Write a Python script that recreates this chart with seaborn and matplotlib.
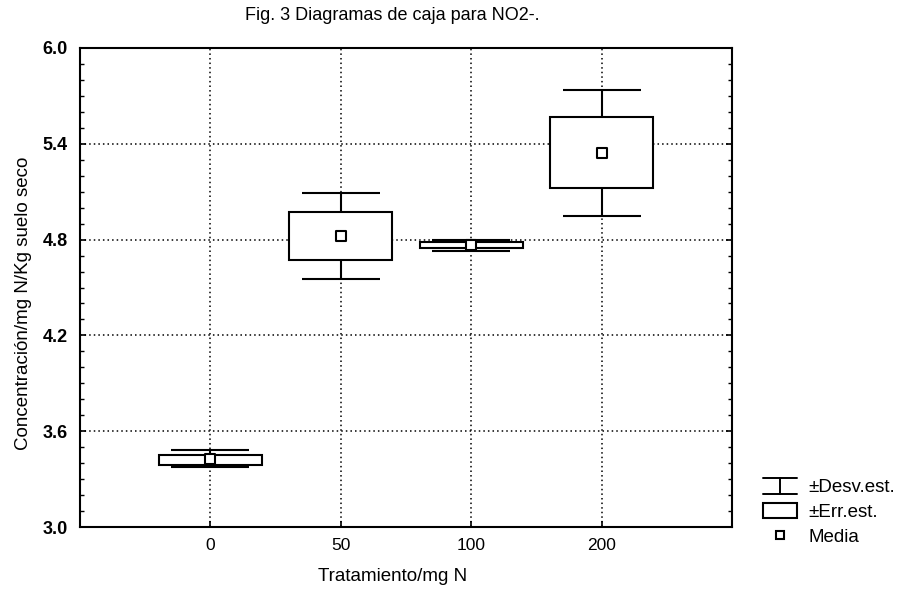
import matplotlib
matplotlib.use("Agg")
import matplotlib.pyplot as plt
import seaborn as sns
import pandas as pd
import numpy as np
from matplotlib.patches import Rectangle
from matplotlib.lines import Line2D
from matplotlib.legend_handler import HandlerBase
from matplotlib.ticker import MultipleLocator

# ---- data ----
categories = ["0", "50", "100", "200"]
means = [3.425, 4.825, 4.765, 5.345]
se_low = [3.39, 4.67, 4.745, 5.125]
se_high = [3.45, 4.975, 4.785, 5.57]
sd_low = [3.375, 4.556, 4.73, 4.95]
sd_high = [3.48, 5.09, 4.80, 5.7375]
y_ticks = [3.0, 3.6, 4.2, 4.8, 5.4, 6.0]
legend_labels = ["±Desv.est.", "±Err.est.", "Media"]

sns.set_theme(style="white")
plt.rcParams['font.family'] = ['Liberation Sans', 'DejaVu Sans']
for k in ["text.color", "axes.labelcolor", "xtick.color", "ytick.color", "axes.edgecolor"]:
    plt.rcParams[k] = "black"

df = pd.DataFrame({"Tratamiento": categories, "mean": means,
                   "se_low": se_low, "se_high": se_high,
                   "sd_low": sd_low, "sd_high": sd_high})
pos = np.arange(len(categories))

fig = plt.figure(figsize=(9, 5.92), dpi=100)
L, R, T, B = 80, 732, 48, 527
ax = fig.add_axes([L/900, 1-B/592, (R-L)/900, (B-T)/592])

# SD whiskers (I-beam)
ax.errorbar(pos, df["mean"], yerr=[df["mean"]-df["sd_low"], df["sd_high"]-df["mean"]],
            fmt="none", ecolor="black", elinewidth=1.5, capsize=28, capthick=1.5, zorder=2)
# SE boxes
box_w = 0.79
for p, lo, hi in zip(pos, df["se_low"], df["se_high"]):
    ax.add_patch(Rectangle((p - box_w/2, lo), box_w, hi - lo, facecolor="white",
                           edgecolor="black", linewidth=1.5, zorder=3))
# means
sns.scatterplot(x=pos, y=df["mean"], marker="s", s=45, color="white",
                edgecolor="black", linewidth=1.5, zorder=4, ax=ax, legend=False)

ax.set_xlim(-1.0, 4.0)
ax.set_ylim(3.0, 6.0)
ax.set_xticks(pos)
ax.set_xticklabels(categories, fontsize=12.5)
ax.set_yticks(y_ticks)
ax.set_yticklabels([f"{v:.1f}" for v in y_ticks], fontsize=13, fontweight="bold")
ax.yaxis.set_minor_locator(MultipleLocator(0.1))
ax.tick_params(axis="y", which="major", direction="in", length=4, width=1.2, left=True, right=True, pad=9)
ax.tick_params(axis="y", which="minor", direction="in", length=3, width=1.0, left=True, right=True)
ax.tick_params(axis="x", which="major", direction="in", length=4, width=1.2, bottom=True, pad=8)
ax.grid(True, which="major", linestyle=(0, (1, 2)), color="black", linewidth=1.1)
ax.set_axisbelow(True)
for s in ax.spines.values():
    s.set_color("black")
    s.set_linewidth(1.5)

ax.set_xlabel("Tratamiento/mg N", fontsize=13.5)
ax.xaxis.set_label_coords((392.5-L)/(R-L), (B-568)/(B-T))
ax.set_ylabel("Concentración/mg N/Kg suelo seco", fontsize=13.5)
ax.yaxis.set_label_coords((32-L)/(R-L), (B-303)/(B-T))
fig.text(392/900, 1-15/592, "Fig. 3 Diagramas de caja para NO2-.", ha="center", va="center", fontsize=13)

# legend
class HandlerIBeam(HandlerBase):
    def create_artists(self, legend, orig_handle, xdescent, ydescent, width, height, fontsize, trans):
        x0, y0 = -xdescent, -ydescent
        kw = dict(color="black", linewidth=1.4, transform=trans)
        return [Line2D([x0, x0+width], [y0+height, y0+height], **kw),
                Line2D([x0, x0+width], [y0, y0], **kw),
                Line2D([x0+width/2, x0+width/2], [y0, y0+height], **kw)]

h_sd = Line2D([], [], color="black")
h_box = Rectangle((0, 0), 1, 1, facecolor="white", edgecolor="black", linewidth=1.5)
h_mean = Line2D([], [], marker="s", linestyle="none", markersize=6, markerfacecolor="white",
                markeredgecolor="black", markeredgewidth=1.5)
ax.legend([h_sd, h_box, h_mean], legend_labels, handler_map={h_sd: HandlerIBeam()},
          loc="upper left", bbox_to_anchor=(763/900, 1-478/592), bbox_transform=fig.transFigure,
          frameon=False, fontsize=13.5, handlelength=1.8, handleheight=0.9,
          handletextpad=0.6, labelspacing=0.35, borderpad=0, borderaxespad=0)

fig.savefig("out.png", dpi=100)
